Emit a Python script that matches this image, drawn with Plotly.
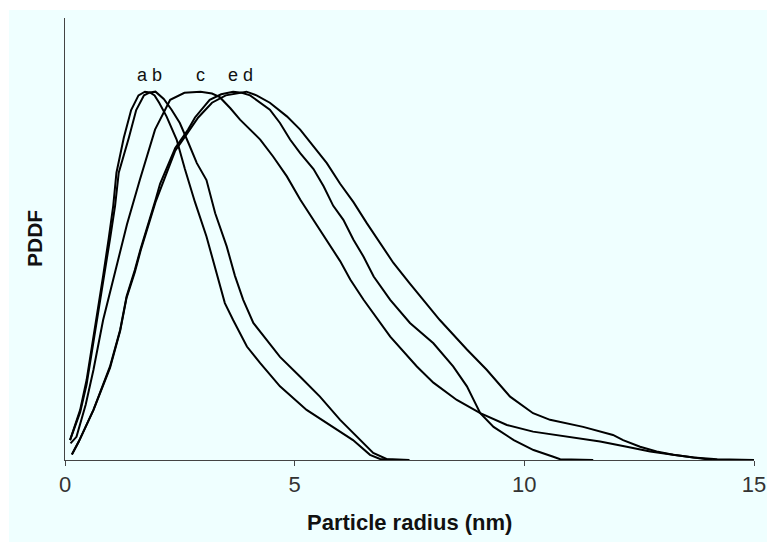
import plotly.graph_objects as go

# ---- data ----
a_x = [0.11, 0.33, 0.47, 0.62, 0.76, 0.83, 0.95, 1.05, 1.12, 1.28, 1.44, 1.6, 1.74, 1.85, 1.95, 2.05, 2.21,
       2.43, 2.61, 2.83, 3.08, 3.30, 3.48, 3.66, 3.96, 4.25, 4.68, 5.26, 5.84, 6.27, 6.64, 6.86, 7.1]
a_y = [0.054, 0.136, 0.217, 0.335, 0.435, 0.5, 0.6, 0.69, 0.78, 0.875, 0.95, 0.99, 1.0, 0.998, 0.99, 0.97,
       0.933, 0.87, 0.79, 0.70, 0.607, 0.507, 0.426, 0.38, 0.308, 0.263, 0.2, 0.136, 0.09, 0.054, 0.014, 0.003, 0.0]

b_x = [0.11, 0.33, 0.47, 0.62, 0.76, 0.86, 0.98, 1.09, 1.17, 1.39, 1.55, 1.72, 1.85, 1.97, 2.15, 2.32, 2.50,
       2.69, 2.87, 3.08, 3.27, 3.52, 3.70, 3.88, 4.10, 4.39, 4.68, 5.12, 5.55, 5.99, 6.42, 6.71, 7.0, 7.5]
b_y = [0.054, 0.13, 0.205, 0.32, 0.42, 0.5, 0.6, 0.69, 0.78, 0.875, 0.95, 0.99, 0.998, 1.0, 0.98, 0.951,
       0.915, 0.86, 0.806, 0.76, 0.67, 0.58, 0.50, 0.435, 0.372, 0.326, 0.28, 0.226, 0.172, 0.109, 0.054,
       0.019, 0.003, 0.0]

c_x = [0.12, 0.25, 0.45, 0.62, 0.83, 1.05, 1.12, 1.35, 1.63, 1.96, 2.29, 2.6, 2.95, 3.2, 3.37, 3.6, 3.81,
       4.25, 4.53, 4.83, 5.12, 5.41, 5.70, 5.99, 6.21, 6.5, 7.08, 7.66, 8.02, 8.53, 9.04, 9.62, 10.19, 10.92,
       11.65, 12.23, 12.74, 13.24, 13.83, 14.1]
c_y = [0.045, 0.063, 0.15, 0.245, 0.38, 0.49, 0.53, 0.64, 0.761, 0.897, 0.978, 0.997, 1.0, 0.995, 0.985,
       0.955, 0.924, 0.87, 0.824, 0.77, 0.707, 0.652, 0.598, 0.54, 0.49, 0.435, 0.335, 0.254, 0.21, 0.163,
       0.127, 0.095, 0.077, 0.063, 0.05, 0.036, 0.023, 0.014, 0.005, 0.0]

d_x = [0.15, 0.3, 0.62, 0.98, 1.2, 1.34, 1.52, 1.65, 1.97, 2.4, 2.68, 2.9, 3.2, 3.5, 3.95, 4.17, 4.46,
       4.83, 5.12, 5.41, 5.70, 5.99, 6.28, 6.57, 6.86, 7.15, 7.5, 7.8, 8.16, 8.75, 9.18, 9.69, 10.19, 10.56,
       11.28, 11.93, 12.15, 12.52, 12.88, 13.24, 13.68, 14.2, 15.0]
d_y = [0.015, 0.05, 0.136, 0.25, 0.35, 0.44, 0.51, 0.57, 0.70, 0.84, 0.89, 0.93, 0.97, 0.99, 1.0, 0.99,
       0.97, 0.933, 0.897, 0.85, 0.806, 0.75, 0.70, 0.643, 0.589, 0.535, 0.48, 0.435, 0.38, 0.3, 0.245,
       0.172, 0.127, 0.109, 0.09, 0.068, 0.054, 0.036, 0.023, 0.014, 0.007, 0.002, 0.0]

e_x = [0.15, 0.3, 0.62, 0.98, 1.2, 1.34, 1.52, 1.65, 1.97, 2.07, 2.4, 2.68, 2.83, 3.15, 3.4, 3.66, 3.85,
       4.03, 4.46, 4.68, 4.9, 5.12, 5.41, 5.63, 5.84, 6.06, 6.28, 6.5, 6.72, 7.08, 7.51, 8.02, 8.45, 8.75,
       9.04, 9.33, 9.77, 10.2, 10.63, 10.78, 11.5]
e_y = [0.015, 0.05, 0.136, 0.254, 0.353, 0.444, 0.516, 0.575, 0.706, 0.75, 0.847, 0.897, 0.93, 0.978,
       0.993, 1.0, 0.997, 0.99, 0.951, 0.915, 0.87, 0.833, 0.79, 0.743, 0.69, 0.652, 0.598, 0.552, 0.498,
       0.435, 0.372, 0.317, 0.254, 0.2, 0.127, 0.09, 0.054, 0.027, 0.009, 0.002, 0.0]

curve_labels = ["a b", "c", "e d"]
label_x = [1.85, 2.96, 3.81]
label_y = [1.046, 1.046, 1.046]

x_ticks = [0, 5, 10, 15]
x_title = "Particle radius (nm)"
y_title = "PDDF"

# ---- figure ----
BG = "#EFFFFF"
W, H = 767, 542
L, R, T, B = 65, 13, 18, 82
pw, ph = W - L - R, H - T - B

fig = go.Figure()
for xs, ys in [(a_x, a_y), (b_x, b_y), (c_x, c_y), (d_x, d_y), (e_x, e_y)]:
    fig.add_trace(go.Scatter(x=xs, y=ys, mode="lines",
                             line=dict(color="black", width=2),
                             showlegend=False, hoverinfo="skip", cliponaxis=False))

for t, xv, yv in zip(curve_labels, label_x, label_y):
    fig.add_annotation(x=xv, y=yv, xref="x", yref="y", text=t, showarrow=False,
                       font=dict(family="Liberation Sans, Arial", size=18, color="#111"))

# white strips on top and left edges of the page (as in the reference)
fig.add_shape(type="rect", xref="paper", yref="paper", layer="above",
              x0=-(L + 5) / pw, x1=(9 - L) / pw, y0=-(B + 5) / ph, y1=(460 + 5) / ph,
              fillcolor="white", line=dict(width=0))
fig.add_shape(type="rect", xref="paper", yref="paper", layer="above",
              x0=-(L + 5) / pw, x1=(W - L + 5) / pw, y0=(460 - 10) / ph, y1=(460 + 5) / ph,
              fillcolor="white", line=dict(width=0))

fig.add_annotation(x=0.5, y=-(522 - 460) / ph, xref="paper", yref="paper",
                   text="<b>" + x_title + "</b>", showarrow=False, yanchor="middle",
                   font=dict(family="Liberation Sans, Arial", size=22, color="#111"))
fig.add_annotation(x=-(L - 34) / pw, y=0.5, xref="paper", yref="paper",
                   text="<b>" + y_title + "</b>", showarrow=False, textangle=-90,
                   xanchor="center", yanchor="middle",
                   font=dict(family="Liberation Sans, Arial", size=21, color="#111"))

fig.update_layout(
    width=W, height=H,
    margin=dict(l=L, r=R, t=T, b=B, pad=0, autoexpand=False),
    paper_bgcolor=BG, plot_bgcolor=BG,
    xaxis=dict(range=[0, 15], tickvals=x_ticks, ticks="outside", ticklen=5, tickcolor="#444",
               showline=True, linecolor="#444", linewidth=1, showgrid=False, zeroline=False,
               automargin=False,
               tickfont=dict(family="Liberation Sans, Arial", size=22, color="#333")),
    yaxis=dict(range=[0, 1.2], showticklabels=False, ticks="", showline=True, linecolor="#444",
               linewidth=1, showgrid=False, zeroline=False, automargin=False),
)

fig.write_html("out.html")
